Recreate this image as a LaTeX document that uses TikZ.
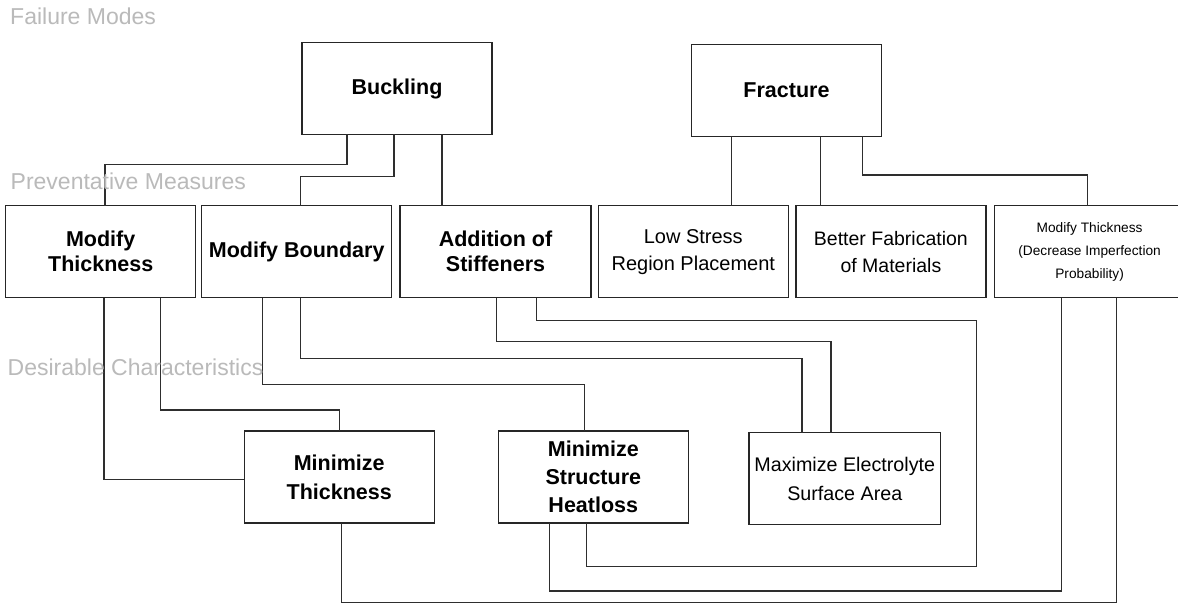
\documentclass[tikz,border=0pt]{standalone}
\usepackage{fontspec}
\setmainfont{Liberation Sans}
\begin{document}
\begin{tikzpicture}[x=1pt,y=-1pt,
  box/.style={draw=black!85, line width=1.3pt, minimum width=190pt, minimum height=92pt,
    inner sep=1pt, outer sep=0pt, align=center, anchor=north west, text=black},
  bold/.style={font=\fontsize{21.5}{25}\selectfont\bfseries},
  boldwide/.style={font=\fontsize{21.5}{29}\selectfont\bfseries},
  plain/.style={font=\fontsize{20}{27}\selectfont},
  small/.style={font=\fontsize{13.7}{23}\selectfont},
  lbl/.style={text=black!27, font=\fontsize{23}{27}\selectfont, inner sep=0pt, anchor=west},
  wire/.style={draw=black!82, line width=1.1pt}]
\clip (0,0) rectangle (1178,604);
\fill[white] (0,0) rectangle (1178,604);

% boxes
\node[box, bold] (buck) at (302,42.5) {Buckling};
\node[box, bold] (frac) at (691.5,44.5) {Fracture};
\node[box, bold] (mt1) at (5.7,205.7) {Modify\\Thickness};
\node[box, bold] (mb) at (201.7,205.7) {Modify Boundary};
\node[box, bold, minimum width=191pt] (add) at (400,205.7) {Addition of\\Stiffeners};
\node[box, plain] (low) at (598.3,205.7) {Low Stress\\Region Placement};
\node[box, font=\fontsize{19.5}{27}\selectfont] (fab) at (795.9,205.7) {Better Fabrication\\of Materials};
\node[box, small] (mt2) at (994.6,205.7) {Modify Thickness\\(Decrease Imperfection\\Probability)};
\node[box, boldwide] (minth) at (244.2,431) {Minimize\\Thickness};
\node[box, font=\fontsize{21.5}{28}\selectfont\bfseries] (minst) at (498.3,431) {Minimize\\Structure\\Heatloss};
\node[box, font=\fontsize{19.7}{29}\selectfont, minimum width=191.5pt] (maxel) at (749,432.7) {Maximize Electrolyte\\Surface Area};

% from Buckling
\draw[wire] (347,0 |- buck.south) -- (347,164.7) -- (105,164.7) -- (105,0 |- mt1.north);
\draw[wire] (394,0 |- buck.south) -- (394,176.7) -- (300.4,176.7) -- (300.4,0 |- mb.north);
\draw[wire] (442,0 |- buck.south) -- (442,0 |- add.north);
% from Fracture
\draw[wire] (731.4,0 |- frac.south) -- (731.4,0 |- low.north);
\draw[wire] (820.3,0 |- frac.south) -- (820.3,0 |- fab.north);
\draw[wire] (862.2,0 |- frac.south) -- (862.2,175) -- (1087.2,175) -- (1087.2,0 |- mt2.north);
% from preventative measures to desirable characteristics
\draw[wire] (104,0 |- mt1.south) -- (104,479.3) -- (minth.west |- 0,479.3);
\draw[wire] (160.7,0 |- mt1.south) -- (160.7,410) -- (339.4,410) -- (339.4,0 |- minth.north);
\draw[wire] (262.1,0 |- mb.south) -- (262.1,384.3) -- (584.8,384.3) -- (584.8,0 |- minst.north);
\draw[wire] (300.4,0 |- mb.south) -- (300.4,358.3) -- (802,358.3) -- (802,0 |- maxel.north);
\draw[wire] (496.4,0 |- add.south) -- (496.4,341.7) -- (831,341.7) -- (831,0 |- maxel.north);
\draw[wire] (536.5,0 |- add.south) -- (536.5,320.5) -- (976.6,320.5) -- (976.6,566.7) -- (586.5,566.7) -- (586.5,0 |- minst.south);
\draw[wire] (1061.7,0 |- mt2.south) -- (1061.7,591) -- (549.2,591) -- (549.2,0 |- minst.south);
\draw[wire] (1116.7,0 |- mt2.south) -- (1116.7,602.3) -- (341.4,602.3) -- (341.4,0 |- minth.south);

% section labels
\node[lbl] (lfail) at (10,16) {Failure Modes};
\node[lbl] (lprev) at (10.5,181) {Preventative Measures};
\node[lbl] (ldes) at (7.5,367) {Desirable Characteristics};
\end{tikzpicture}
\end{document}
